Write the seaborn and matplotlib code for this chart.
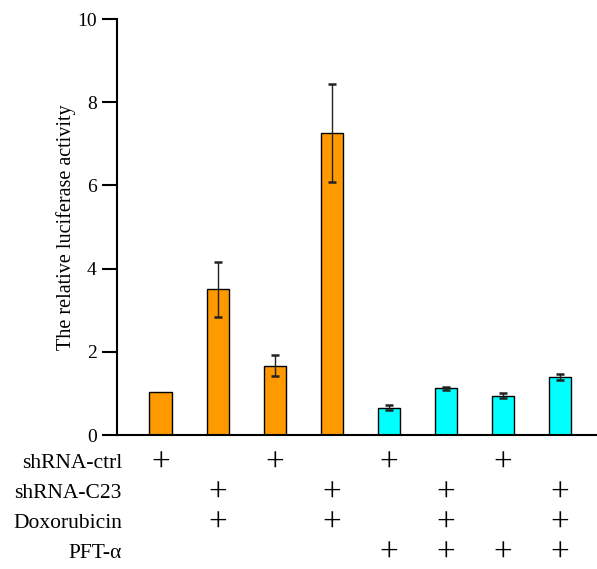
import matplotlib
matplotlib.use("Agg")
import matplotlib.pyplot as plt
import matplotlib.transforms as mtransforms
import seaborn as sns
import pandas as pd

# bar values
groups = ["g1", "g2", "g3", "g4", "g5", "g6", "g7", "g8"]
means = [1.03, 3.50, 1.67, 7.25, 0.66, 1.12, 0.94, 1.40]
errs = [0.0, 0.66, 0.25, 1.18, 0.07, 0.03, 0.06, 0.07]
colors = ["#FF9900"] * 4 + ["#00FFFF"] * 4

# treatment table below the bars (1 = "+")
row_names = ["shRNA-ctrl", "shRNA-C23", "Doxorubicin", "PFT-\u03b1"]
shrna_ctrl = [1, 0, 1, 0, 1, 0, 1, 0]
shrna_c23 = [0, 1, 0, 1, 0, 1, 0, 1]
doxorubicin = [0, 1, 0, 1, 0, 1, 0, 1]
pft_alpha = [0, 0, 0, 0, 1, 1, 1, 1]
table = [shrna_ctrl, shrna_c23, doxorubicin, pft_alpha]

sns.set_style("ticks", {"axes.edgecolor": "black", "xtick.color": "black",
                        "ytick.color": "black", "text.color": "black",
                        "axes.labelcolor": "black"})
plt.rcParams["font.family"] = ["Liberation Serif", "DejaVu Serif"]

df = pd.DataFrame({"group": groups, "value": means})

fig = plt.figure(figsize=(5.97, 5.69), dpi=100)
ax = fig.add_axes([117 / 597, 1 - 435 / 569, 480 / 597, 416 / 569])

sns.barplot(data=df, x="group", y="value", hue="group", palette=colors,
            saturation=1, legend=False, width=0.4, edgecolor="black",
            linewidth=1.0, errorbar=None, ax=ax)
idx = [i for i, e in enumerate(errs) if e > 0]
ax.errorbar(idx, [means[i] for i in idx], yerr=[errs[i] for i in idx],
            fmt="none", ecolor="#222222", elinewidth=1.0, capsize=3.2,
            capthick=1.8)

ax.set_ylim(0, 10)
ax.set_xlim(-0.77, 7.65)
ax.set_yticks([0, 2, 4, 6, 8, 10])
ax.set_xticks([])
ax.set_xlabel("")
ax.set_ylabel("The relative luciferase activity", fontsize=14.5, labelpad=1)
ax.tick_params(axis="y", labelsize=14, length=11, width=1.5, direction="out",
               colors="black")
for s in ["top", "right"]:
    ax.spines[s].set_visible(False)
ax.spines["left"].set_linewidth(1.5)
ax.spines["bottom"].set_linewidth(1.5)

row_y = [463, 493, 523, 553]
trans = mtransforms.blended_transform_factory(ax.transData, fig.transFigure)
for name, flags, y in zip(row_names, table, row_y):
    yf = 1 - y / 569
    fig.text(122 / 597, yf, name, ha="right", va="center", fontsize=15.5)
    for i, f in enumerate(flags):
        if f:
            ax.text(i, yf, "+", transform=trans, ha="center", va="center",
                    fontsize=24, clip_on=False)

fig.savefig("out.png", dpi=100)
